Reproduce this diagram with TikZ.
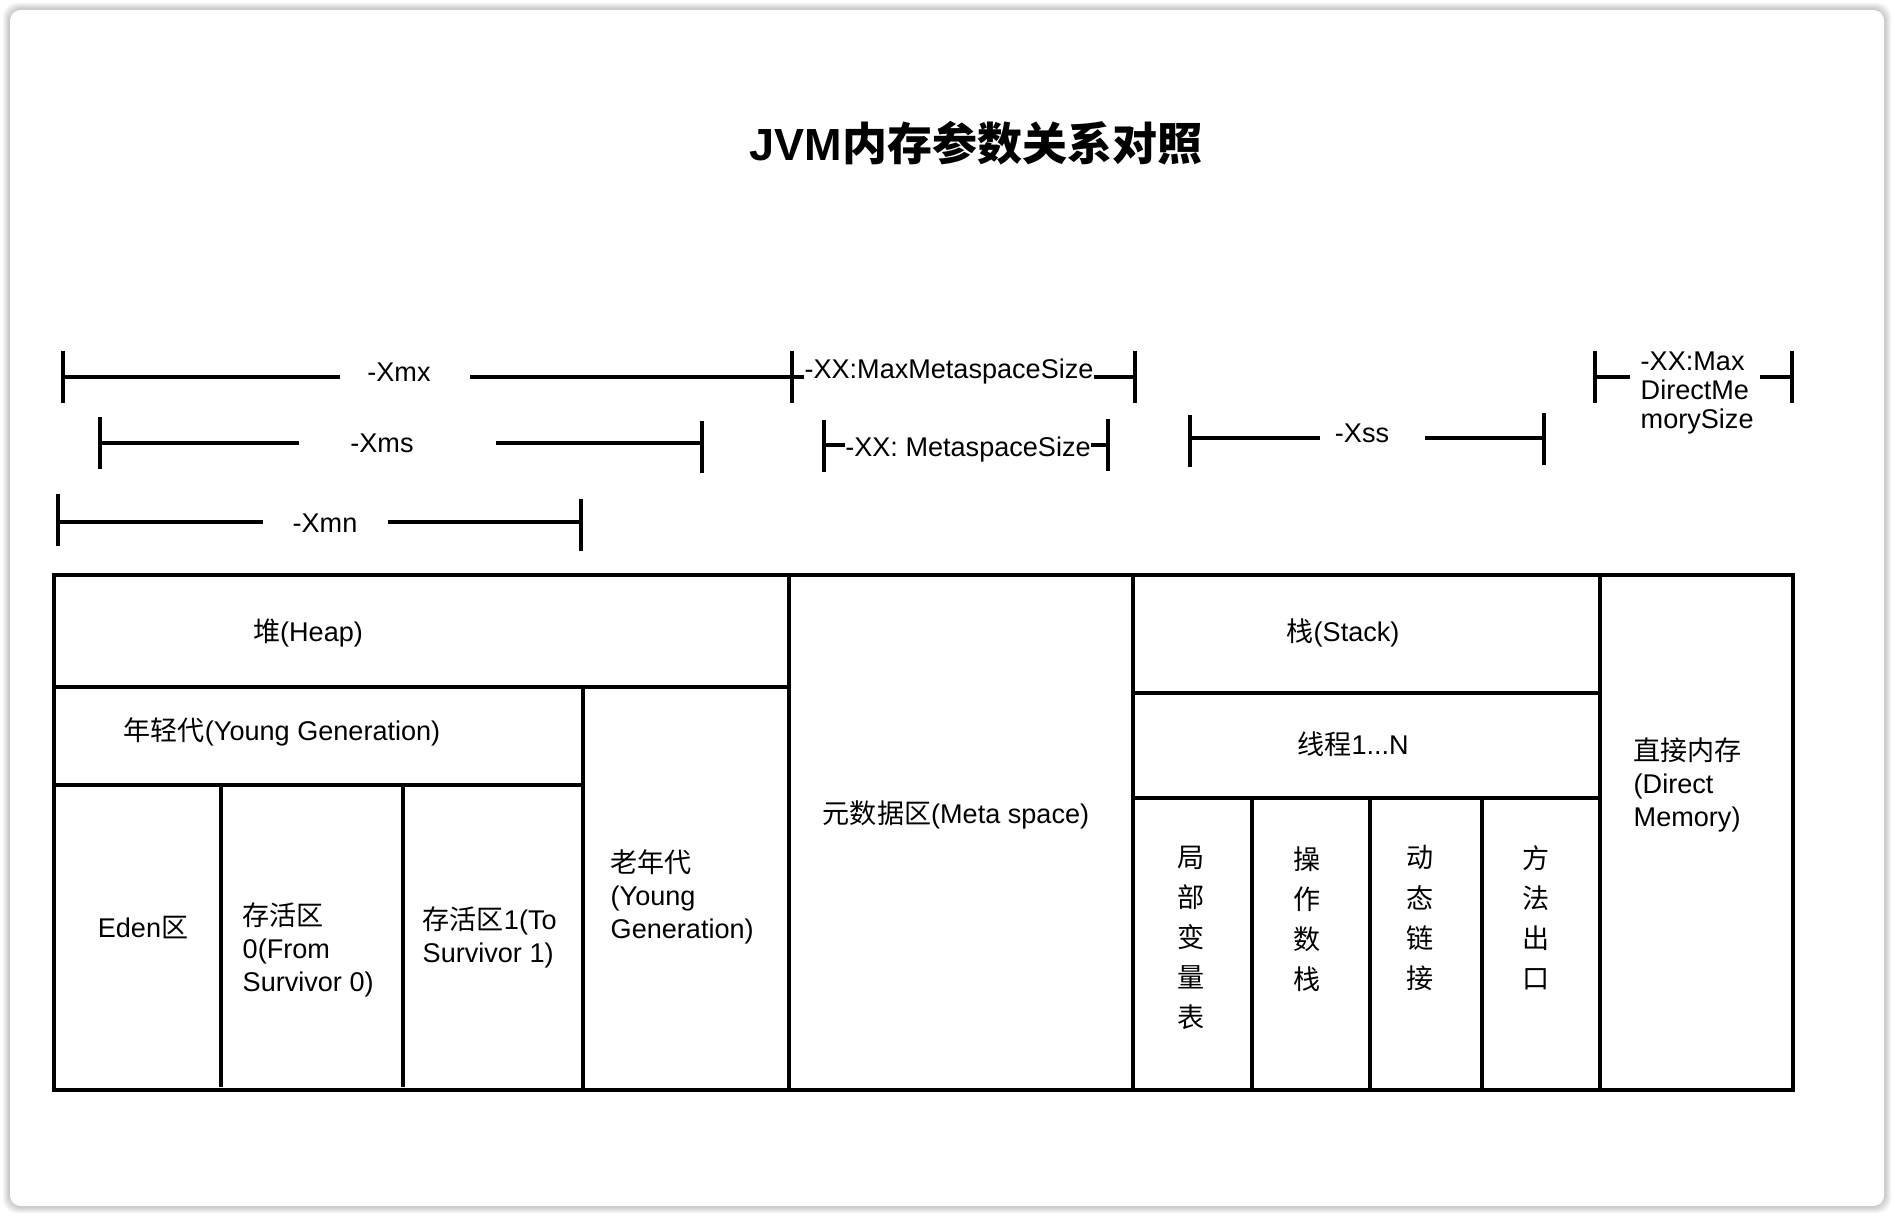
\documentclass[tikz,border=0pt]{standalone}
\usepackage{fontspec}
\setmainfont{Liberation Sans}
\newfontfamily\cjk{Noto Sans CJK SC}
\usetikzlibrary{positioning}

\tikzset{
    wall/.style={line width=1.25pt, line cap=rect},
    bar/.style={line width=1.15pt},
    lbl/.style={inner sep=0pt, font=\fontsize{7.7}{9.4}\selectfont},
    lblblock/.style={lbl, anchor=north west, align=left},
    vtext/.style={inner sep=0pt, anchor=north, align=center, font=\cjk\fontsize{7.7}{11.4}\selectfont},
}

\begin{document}
\begin{tikzpicture}[x=0.01cm, y=-0.01cm]
    \useasboundingbox (0,0) rectangle (1894,1216);

    % 1. Card with a soft shadow
    \foreach \s in {1,...,7} {
        \fill[black, opacity=0.035, rounded corners=4pt] (10-\s,10-\s) rectangle (1884+\s,1206+\s);
    }
    \fill[white, rounded corners=3pt] (10,10) rectangle (1884,1206);

    % 2. Title
    \node[font=\fontsize{12.8}{15}\selectfont\bfseries] (title) at (976,143) {JVM{\cjk 内存参数关系对照}};

    % 3. Parameter bars, first row
    \coordinate (xmxA) at (63,377);
    \coordinate (xmxC) at (340,377);
    \coordinate (xmxD) at (470,377);
    \coordinate (xmxB) at (792,377);
    \node[lbl] (xmx) at (399,372) {-Xmx};
    \draw[bar] (xmxA) -- (xmxC);
    \draw[bar] (xmxD) -- (xmxB);
    \draw[bar] (xmxA) ++(0,-26) -- ++(0,52);
    \draw[bar] (xmxB) ++(0,-26) -- ++(0,52);

    \coordinate (mmsA) at (791,377);
    \coordinate (mmsB) at (1135,377);
    \node[lbl] (mms) at (949,372) {-XX:MaxMetaspaceSize};
    \draw[bar] (mmsA) -- (mmsA -| mms.west);
    \draw[bar] (mmsB -| mms.east) -- (mmsB);
    \draw[bar] (mmsB) ++(0,-26) -- ++(0,52);

    \coordinate (mdmA) at (1595,377);
    \coordinate (mdmC) at (1630,377);
    \coordinate (mdmD) at (1760,377);
    \coordinate (mdmB) at (1792,377);
    \node[lblblock, font=\fontsize{7.7}{8.3}\selectfont] (mdm) at (1640,351) {-XX:Max\\DirectMe\\morySize};
    \draw[bar] (mdmA) -- (mdmC);
    \draw[bar] (mdmD) -- (mdmB);
    \draw[bar] (mdmA) ++(0,-26) -- ++(0,52);
    \draw[bar] (mdmB) ++(0,-26) -- ++(0,52);

    % 4. Parameter bars, second row
    \coordinate (xmsA) at (100,443);
    \coordinate (xmsC) at (299,443);
    \coordinate (xmsD) at (496,443);
    \coordinate (xmsB) at (702,443);
    \node[lbl] (xms) at (382,443) {-Xms};
    \draw[bar] (xmsA) -- (xmsC);
    \draw[bar] (xmsD) -- (xmsB);
    \draw[bar] (xmsA) ++(0,-26) -- ++(0,52);
    \draw[bar] (xmsB) ++(0,-22) -- ++(0,52);

    \coordinate (msA) at (824,445);
    \coordinate (msB) at (1108,445);
    \node[lbl] (ms) at (968,450) {-XX: MetaspaceSize};
    \draw[bar] (msA) -- (msA -| ms.west);
    \draw[bar] (msB -| ms.east) -- (msB);
    \draw[bar] (msA) ++(0,-25) -- ++(0,52);
    \draw[bar] (msB) ++(0,-26) -- ++(0,52);

    \coordinate (xssA) at (1190,438);
    \coordinate (xssC) at (1320,438);
    \coordinate (xssD) at (1425,438);
    \coordinate (xssB) at (1544,438);
    \node[lbl] (xss) at (1362,433) {-Xss};
    \draw[bar] (xssA) -- (xssC);
    \draw[bar] (xssD) -- (xssB);
    \draw[bar] (xssA) ++(0,-23) -- ++(0,52);
    \draw[bar] (xssB) ++(0,-25) -- ++(0,52);

    % 5. Parameter bar, third row
    \coordinate (xmnA) at (58,522);
    \coordinate (xmnC) at (263,522);
    \coordinate (xmnD) at (388,522);
    \coordinate (xmnB) at (581,522);
    \node[lbl] (xmn) at (325,523) {-Xmn};
    \draw[bar] (xmnA) -- (xmnC);
    \draw[bar] (xmnD) -- (xmnB);
    \draw[bar] (xmnA) ++(0,-28) -- ++(0,52);
    \draw[bar] (xmnB) ++(0,-23) -- ++(0,52);

    % 6. Memory areas
    \draw[wall] (54,575) rectangle (1793,1090);
    \draw[wall] (54,687) -- (789,687);
    \draw[wall] (789,575) -- (789,1090);
    \draw[wall] (54,785) -- (583,785);
    \draw[wall] (583,687) -- (583,1090);
    \draw[wall] (221,785) -- (221,1085);
    \draw[wall] (403,785) -- (403,1085);
    \draw[wall] (1133,575) -- (1133,1090);
    \draw[wall] (1133,693) -- (1600,693);
    \draw[wall] (1133,798) -- (1600,798);
    \foreach \x in {1252,1370,1482} {
        \draw[wall] (\x,798) -- (\x,1090);
    }
    \draw[wall] (1600,575) -- (1600,1090);

    % 7. Area labels
    \node[lbl] (heap) at (308,633) {{\cjk 堆}(Heap)};
    \node[lbl] (young) at (282,732) {{\cjk 年轻代}(Young Generation)};
    \node[lbl] (eden) at (143,928) {Eden{\cjk 区}};
    \node[lblblock] (surv0) at (242,902) {{\cjk 存活区}\\0(From\\Survivor 0)};
    \node[lblblock] (surv1) at (422,906) {{\cjk 存活区}1(To\\Survivor 1)};
    \node[lblblock] (old) at (610,849) {{\cjk 老年代}\\(Young\\Generation)};
    \node[lbl] (meta) at (956,815) {{\cjk 元数据区}(Meta space)};
    \node[lbl] (stack) at (1343,633) {{\cjk 栈}(Stack)};
    \node[lbl] (thread) at (1353,744) {{\cjk 线程}1...N};
    \node[vtext] (lvar) at (1191,845) {局\\部\\变\\量\\表};
    \node[vtext] (opstack) at (1307,846) {操\\作\\数\\栈};
    \node[vtext] (dynlink) at (1420,845) {动\\态\\链\\接};
    \node[vtext] (retaddr) at (1536,845) {方\\法\\出\\口};
    \node[lblblock] (direct) at (1633,737) {{\cjk 直接内存}\\(Direct\\Memory)};
\end{tikzpicture}
\end{document}
